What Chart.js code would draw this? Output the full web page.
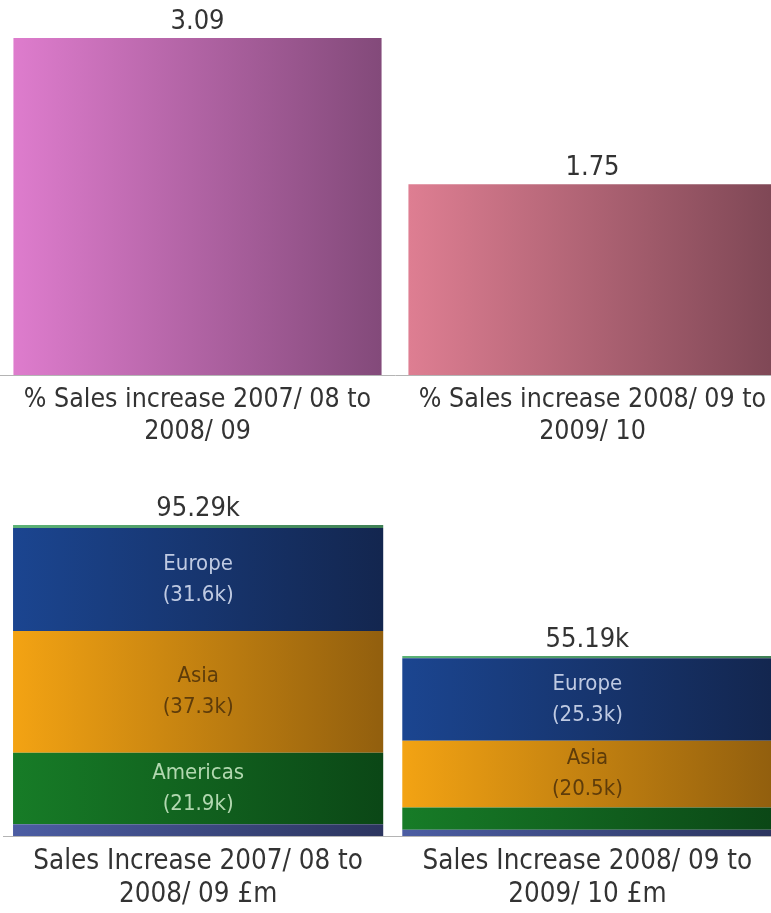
<!DOCTYPE html>
<html>
<head>
<meta charset="utf-8">
<script src="https://cdn.jsdelivr.net/npm/chart.js@4/dist/chart.umd.min.js"></script>
<style>
  html, body { margin: 0; padding: 0; background: #fff; overflow: hidden; width: 771px; height: 913px; }
  canvas { position: absolute; left: 0; }
  #pct { top: 0; }
  #sales { top: 460px; }
</style>
</head>
<body>
<canvas id="pct" width="790" height="460"></canvas>
<canvas id="sales" width="782" height="453"></canvas>
<script>
// Percentage growth in sales, two periods
const pctCategories = [
  ['% Sales increase 2007/ 08 to', '2008/ 09'],
  ['% Sales increase 2008/ 09 to', '2009/ 10']
];
const pctIncrease = [3.09, 1.75];

// Absolute sales growth by region (£m, thousands)
const salesCategories = [
  ['Sales Increase 2007/ 08 to', '2008/ 09 £m'],
  ['Sales Increase 2008/ 09 to', '2009/ 10 £m']
];
const otherSales    = [3.6, 1.9];
const americasSales = [21.9, 6.8];
const asiaSales     = [37.3, 20.5];
const europeSales   = [31.6, 25.3];
const restSales     = [0.89, 0.69];

const FONT = '"DejaVu Sans Condensed", "DejaVu Sans", sans-serif';
const TEXT = '#333333';

// Horizontal left-to-right shading across the width of one bar
function barGradient(c, barPct, from, to) {
  const chart = c.chart;
  const xs = chart.scales && chart.scales.x;
  if (!xs || !chart.chartArea) return from;
  const cw = xs.width / chart.data.labels.length;
  const w = cw * barPct;
  const cx = xs.getPixelForValue(c.dataIndex);
  const g = chart.ctx.createLinearGradient(cx - w / 2, 0, cx + w / 2, 0);
  g.addColorStop(0, from);
  g.addColorStop(1, to);
  return g;
}

// ---------- top chart: % increase ----------
const PCT_BAR = 0.932;
const pctShades = [['#de7ccd', '#834a7a'], ['#de7e92', '#7e4755']];

new Chart(document.getElementById('pct'), {
  type: 'bar',
  data: {
    labels: pctCategories,
    datasets: [{
      label: '% Sales increase',
      data: pctIncrease,
      barPercentage: PCT_BAR,
      categoryPercentage: 1,
      borderWidth: 0,
      backgroundColor: c => barGradient(c, PCT_BAR, pctShades[c.dataIndex][0], pctShades[c.dataIndex][1])
    }]
  },
  options: {
    responsive: false,
    animation: false,
    layout: { padding: { top: 38, left: 0, right: 0, bottom: 0 } },
    plugins: { legend: { display: false }, tooltip: { enabled: false } },
    scales: {
      x: {
        grid: { display: false },
        border: { display: true, color: '#b4b4b4', width: 1 },
        ticks: { color: TEXT, padding: 1, font: { family: FONT, size: 26.5, lineHeight: 1.21 }, maxRotation: 0, autoSkip: false },
        afterFit: s => { s.height = 85; }
      },
      y: { display: false, min: 0, max: Math.max(...pctIncrease) }
    }
  },
  plugins: [{
    id: 'pctValues',
    afterDatasetsDraw(chart) {
      const ctx = chart.ctx;
      const meta = chart.getDatasetMeta(0);
      ctx.save();
      ctx.font = '27px ' + FONT;
      ctx.fillStyle = TEXT;
      ctx.textAlign = 'center';
      ctx.textBaseline = 'middle';
      meta.data.forEach((bar, i) => ctx.fillText(pctIncrease[i].toFixed(2), bar.x, bar.y - 16));
      ctx.restore();
    }
  }]
});

// ---------- bottom chart: stacked regional sales ----------
const SALES_BAR = 0.951;
const regions = [
  { label: 'Other',         data: otherSales,    from: '#4c5da3', to: '#2c355f', text: null },
  { label: 'Americas',      data: americasSales, from: '#177c27', to: '#0b4716', text: '#b2d8b0' },
  { label: 'Asia',          data: asiaSales,     from: '#f3a313', to: '#925f0e', text: '#5e3c0a' },
  { label: 'Europe',        data: europeSales,   from: '#1b4590', to: '#13264f', text: '#bfcae2' },
  { label: 'Rest of world', data: restSales,     from: '#5cb276', to: '#3f8055', text: null }
];
const salesTotals = salesCategories.map((_, i) => regions.reduce((s, r) => s + r.data[i], 0));

new Chart(document.getElementById('sales'), {
  type: 'bar',
  data: {
    labels: salesCategories,
    datasets: regions.map(r => ({
      label: r.label,
      data: r.data,
      stack: 'sales',
      barPercentage: SALES_BAR,
      categoryPercentage: 1,
      borderWidth: 0,
      backgroundColor: c => barGradient(c, SALES_BAR, r.from, r.to)
    }))
  },
  options: {
    responsive: false,
    animation: false,
    layout: { padding: { top: 65, left: 3.5, right: 0, bottom: 0 } },
    plugins: { legend: { display: false }, tooltip: { enabled: false } },
    scales: {
      x: {
        stacked: true,
        grid: { display: false },
        border: { display: true, color: '#b4b4b4', width: 1 },
        ticks: { color: TEXT, padding: 1, font: { family: FONT, size: 27.5, lineHeight: 1.2 }, maxRotation: 0, autoSkip: false },
        afterFit: s => { s.height = 77; }
      },
      y: { display: false, stacked: true, min: 0, max: Math.max(...salesTotals) }
    }
  },
  plugins: [{
    id: 'salesLabels',
    afterDatasetsDraw(chart) {
      const ctx = chart.ctx;
      ctx.save();
      ctx.textAlign = 'center';
      ctx.textBaseline = 'middle';
      // region name and value inside segments tall enough to hold them
      ctx.font = '22px ' + FONT;
      regions.forEach((r, di) => {
        if (!r.text) return;
        chart.getDatasetMeta(di).data.forEach((bar, i) => {
          const h = bar.base - bar.y;
          if (h < 50) return;
          const mid = (bar.y + bar.base) / 2;
          ctx.fillStyle = r.text;
          ctx.fillText(r.label, bar.x, mid - 15.5);
          ctx.fillText('(' + r.data[i].toFixed(1) + 'k)', bar.x, mid + 15.5);
        });
      });
      // stack totals above each bar
      const topMeta = chart.getDatasetMeta(regions.length - 1);
      ctx.font = '27px ' + FONT;
      ctx.fillStyle = TEXT;
      topMeta.data.forEach((bar, i) => ctx.fillText(salesTotals[i].toFixed(2) + 'k', bar.x, bar.y - 16));
      ctx.restore();
    }
  }]
});
</script>
</body>
</html>
